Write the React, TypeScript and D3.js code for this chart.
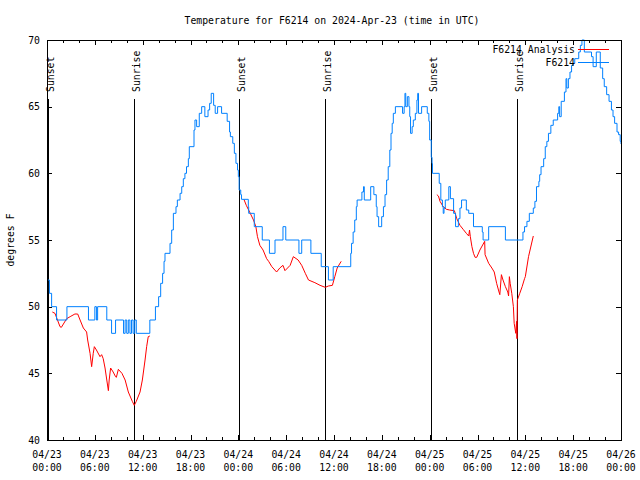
import React from "react";
import * as d3 from "d3";

const title = "Temperature for F6214 on 2024-Apr-23 (time in UTC)";
const yLabel = "degrees F";
const xTickDates = ["04/23", "04/23", "04/23", "04/23", "04/24", "04/24", "04/24", "04/24", "04/25", "04/25", "04/25", "04/25", "04/26"];
const xTickTimes = ["00:00", "06:00", "12:00", "18:00", "00:00", "06:00", "12:00", "18:00", "00:00", "06:00", "12:00", "18:00", "00:00"];
const yTicks = [40, 45, 50, 55, 60, 65, 70];

const sunEvents = ["Sunset", "Sunrise", "Sunset", "Sunrise", "Sunset", "Sunrise"];
const sunHours = [0.1, 10.9, 24.1, 34.9, 48.15, 58.95];

// F6214 observations (hours since 04/23 00:00 UTC, deg F)
const obsHours = [
  0.0, 0.3, 0.58, 1.2, 2.5, 5.2, 6.0, 6.2, 6.35, 7.5, 8.1, 8.6, 9.6, 9.8, 10.0, 10.2, 10.4, 10.6, 10.8, 11.0, 11.2,
  12.9, 13.6, 14.0, 14.26, 14.5, 14.68, 14.8, 15.43, 15.64, 15.85, 16.18, 16.35, 16.69, 16.9, 17.1, 17.3, 17.5, 17.73,
  17.85, 18.44, 18.56, 18.77, 19.1, 19.4, 19.8, 20.2, 20.4, 20.6, 20.9, 21.1, 21.4, 21.9, 22.6, 22.9, 23.0, 23.3, 23.5,
  23.7, 23.9, 24.0, 24.1, 24.3, 24.4, 25.25, 25.3, 26.0, 27.0, 27.9, 28.6, 29.6, 29.95, 31.6, 31.95, 33.1, 34.4, 35.3,
  35.9, 38.1, 38.2, 38.4, 38.6, 38.8, 38.9, 39.5, 39.7, 39.8, 40.6, 41.0, 41.3, 41.4, 41.6, 41.98, 42.2, 42.4, 42.6,
  42.8, 43.0, 43.15, 43.3, 43.44, 43.7, 44.6, 44.8, 44.9, 45.0, 45.2, 45.4, 45.5, 45.6, 45.8, 45.95, 46.2, 46.4, 46.5,
  46.6, 46.99, 47.7, 47.9, 48.0, 48.2, 48.3, 48.35, 49.2, 49.4, 49.6, 49.7, 49.8, 49.96, 50.4, 50.6, 51.0, 51.25, 51.6,
  51.8, 52.0, 52.6, 52.9, 53.5, 54.6, 54.7, 55.4, 57.5, 59.7, 59.9, 60.2, 60.5, 61.0, 61.2, 61.4, 61.7, 61.8, 61.97,
  62.3, 62.5, 62.7, 62.9, 63.2, 63.5, 64.05, 64.2, 64.3, 64.5, 64.9, 65.1, 65.2, 65.4, 65.6, 65.8, 66.0, 66.2, 66.7,
  66.9, 67.1, 67.4, 68.3, 68.5, 68.9, 69.4, 69.7, 69.9, 70.2, 70.5, 70.8, 71.0, 71.2, 71.5, 71.7, 71.9, 72.0,
];
const obsTemps = [
  52, 51, 50, 49, 50, 49, 50, 49, 50, 49, 48, 49, 48, 49, 48, 49, 48, 49, 48, 49, 48,
  49, 50, 50.75, 51.75, 52.5, 53.4, 54, 54.75, 55.75, 57, 57.5, 58, 58.5, 59, 59.6, 60, 60.5, 61.1,
  62, 63.25, 64, 63.5, 64.5, 65, 64.25, 64.75, 65.25, 66, 65.1, 64.5, 65, 64.5, 63.9, 63.1, 62.75, 62.25, 61.5,
  60.75, 60.25, 59.75, 58.75, 58.4, 58.05, 57.5, 57, 56, 55, 54, 55, 56, 55, 54, 55, 54, 53, 52,
  53, 54, 54.75, 55.6, 56.5, 57.5, 58, 58.6, 59, 58, 59, 58.4, 57.5, 56.75, 56, 56.75, 57.5, 58.4, 59.5,
  60.5, 61.75, 63, 63.75, 64.5, 65, 64.5, 65, 66, 65, 65.75, 65, 64.25, 63, 63.5, 64, 64.5, 65.5, 66,
  64.5, 65, 64.5, 63.9, 62.5, 61.2, 60.75, 60, 59.25, 58, 57.5, 57, 57.4, 58, 59, 58.1, 57, 56, 56.6,
  57.4, 58, 57.25, 57, 56, 55.6, 55, 56, 55, 55.6, 56, 56.4, 57, 57.4, 57.9, 59, 59.4, 59.9, 60.5,
  61.1, 62, 62.4, 63, 63.6, 64, 64.5, 65, 64.25, 65.4, 66.1, 67.1, 66.4, 67.1, 67.6, 68.1, 68.25, 68.6, 69.1,
  69.6, 70, 69.1, 68.75, 68, 69.1, 67.9, 67.1, 66.5, 65.9, 65.4, 64.75, 64.25, 63.75, 63.1, 62.9, 62.4, 62.2,
];

// F6214 Analysis (null = gap)
const anaHours = [
  0.67, 1.0, 1.63, 1.8, 2.47, 2.9, 3.5, 3.85, 4.15, 4.56, 4.97, 5.1, 5.4, 5.6, 5.8, 5.94, 6.2, 6.65, 6.85, 7.05, 7.28,
  7.5, 7.7, 7.8, 7.98, 8.3, 8.6, 8.7, 8.95, 9.4, 9.8, 10.2, 10.7, 10.95, 11.2, 11.67, 11.96, 12.3, 12.5, 12.7, 12.9,
  13.0,
  24.7, 25.0, 25.5, 25.9, 26.2, 26.4, 26.7, 27.1, 27.55, 27.8, 28.2, 28.8, 29.2, 29.6, 29.85, 30.5, 30.9, 31.5, 31.95,
  32.4, 32.8, 33.6, 34.25, 34.9, 35.3, 35.8, 36.1, 36.4, 36.9,
  37.0,
  48.9, 49.1, 49.3, 49.7, 50.1, 50.5, 51.1, 51.4, 51.8, 52.2, 52.6, 52.9, 53.0, 53.1, 53.3, 53.5, 53.7, 53.9, 54.3,
  54.9, 54.95, 55.4, 55.8, 56.1, 56.4, 56.7, 56.8, 57.0, 57.2, 57.5, 57.8, 57.9, 58.0, 58.1, 58.3, 58.5, 58.6, 58.8,
  58.9, 58.95, 59.0, 59.3, 59.6, 59.9, 60.0, 60.4, 61.0,
];
const anaTemps: (number | null)[] = [
  49.6, 49.5, 48.5, 48.45, 49.1, 49.25, 49.45, 49.45, 49.0, 48.4, 48.1, 47.5, 46.5, 45.5, 46.5, 47.0, 46.75, 46.25, 46.4, 46.1, 45.4,
  44.5, 43.7, 44.5, 45.4, 45.1, 44.75, 44.7, 45.3, 45.0, 44.5, 43.6, 42.9, 42.6, 42.9, 43.6, 44.5, 46.0, 47.0, 47.75, 47.8,
  null,
  58.05, 57.6, 57.0, 56.5, 56.0, 55.25, 54.6, 54.25, 53.6, 53.4, 53.0, 52.6, 52.9, 53.1, 52.7, 53.1, 53.75, 53.5, 53.1,
  52.5, 52.0, 51.8, 51.6, 51.45, 51.55, 51.6, 52.25, 52.9, 53.4,
  null,
  58.4, 58.3, 57.9, 57.5, 57.3, 57.25, 57.2, 56.6, 56.1, 55.8, 55.5, 55.3, 55.75, 55.25, 54.5, 54.0, 53.7, 53.7, 54.25,
  54.9, 53.9, 53.25, 52.9, 52.6, 51.75, 51.1, 50.9, 52.4, 52.0, 51.5, 51.1, 50.8, 52.25, 51.75, 51.0, 50.0, 48.75, 48.0,
  48.9, 47.6, 50.5, 51.0, 51.5, 52.1, 52.25, 53.75, 55.3,
];

const seriesNames = ["F6214 Analysis", "F6214"];
const seriesColors = ["#ff0000", "#0080ff"];

const FONT = "'DejaVu Sans Mono', 'Liberation Mono', monospace";

export default function App() {
  const W = 640, H = 480;
  const left = 47, right = 621, top = 40, bottom = 440;
  const x = d3.scaleLinear().domain([0, 72]).range([left, right]);
  const y = d3.scaleLinear().domain([40, 70]).range([bottom, top]);

  const obs = obsHours.map((h, i) => [h, obsTemps[i]] as [number, number]);
  const ana = anaHours.map((h, i) => [h, anaTemps[i]] as [number, number | null]);

  const obsLine = d3.line<[number, number]>().x(d => x(d[0])).y(d => y(d[1])).curve(d3.curveStepAfter);
  const anaLine = d3
    .line<[number, number | null]>()
    .defined(d => d[1] !== null)
    .x(d => x(d[0]))
    .y(d => y(d[1] as number));

  const hourTicks = d3.range(0, 73, 2);

  return (
    <svg width={W} height={H} style={{ position: "absolute", left: 0, top: 0, background: "#fff" }} fontFamily={FONT} fontSize={9.8}>
      <rect x={0} y={0} width={W} height={H} fill="#fff" />
      <text x={332} y={20} textAnchor="middle" dominantBaseline="central" fill="#000">{title}</text>
      <text transform={`translate(10,240) rotate(-90)`} textAnchor="middle" dominantBaseline="central" fill="#000">{yLabel}</text>

      {/* y ticks */}
      {yTicks.map(t => (
        <g key={"y" + t}>
          <line x1={left} x2={left + 5} y1={Math.round(y(t)) + 0.5} y2={Math.round(y(t)) + 0.5} stroke="#000" />
          <line x1={right - 5} x2={right} y1={Math.round(y(t)) + 0.5} y2={Math.round(y(t)) + 0.5} stroke="#000" />
          <text x={40} y={y(t)} textAnchor="end" dominantBaseline="central" fill="#000">{t}</text>
        </g>
      ))}

      {/* x ticks */}
      {hourTicks.map(h => {
        const len = h % 6 === 0 ? 5 : 3;
        const px = Math.round(x(h)) + 0.5;
        return (
          <g key={"x" + h}>
            <line x1={px} x2={px} y1={bottom} y2={bottom - len} stroke="#000" />
            <line x1={px} x2={px} y1={top} y2={top + len} stroke="#000" />
          </g>
        );
      })}
      {xTickDates.map((d, i) => (
        <g key={"xl" + i}>
          <text x={x(i * 6)} y={454} textAnchor="middle" dominantBaseline="central" fill="#000">{d}</text>
          <text x={x(i * 6)} y={467} textAnchor="middle" dominantBaseline="central" fill="#000">{xTickTimes[i]}</text>
        </g>
      ))}

      {/* sunrise / sunset */}
      {sunHours.map((h, i) => {
        const px = Math.round(x(h)) + 0.5;
        return (
          <g key={"s" + i}>
            <line x1={px} x2={px} y1={99} y2={bottom} stroke="#000" />
            <text transform={`translate(${px + 5},92) rotate(-90)`} textAnchor="start" fill="#000">{sunEvents[i]}</text>
          </g>
        );
      })}

      <path d={anaLine(ana) || ""} fill="none" stroke={seriesColors[0]} strokeWidth={1} />
      <path d={obsLine(obs) || ""} fill="none" stroke={seriesColors[1]} strokeWidth={1} />

      {/* border */}
      <rect x={left + 0.5} y={top + 0.5} width={right - left} height={bottom - top} fill="none" stroke="#000" />

      {/* legend */}
      {seriesNames.map((n, i) => (
        <g key={"lg" + i}>
          <text x={575} y={49 + i * 13} textAnchor="end" dominantBaseline="central" fill="#000">{n}</text>
          <line x1={578} x2={609} y1={49.5 + i * 13} y2={49.5 + i * 13} stroke={seriesColors[i]} strokeWidth={1} />
        </g>
      ))}
    </svg>
  );
}
